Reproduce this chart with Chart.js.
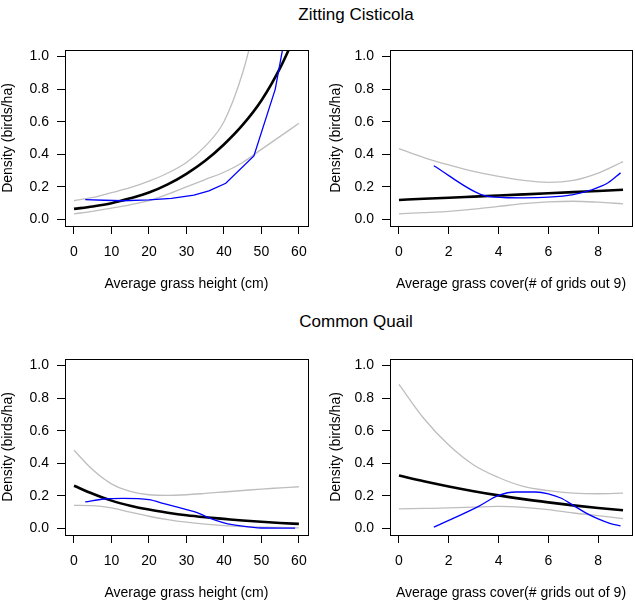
<!DOCTYPE html>
<html>
<head>
<meta charset="utf-8">
<script src="https://cdn.jsdelivr.net/npm/chart.js@4"></script>
<style>
  body { margin: 0; background: #fff; }
  #page { position: relative; width: 635px; height: 603px; background: #fff; overflow: hidden; }
  .main { position: absolute; left: 0; width: 712px; text-align: center;
          font-family: "Liberation Sans", Arial, sans-serif; font-size: 17px; color: #000; line-height: 20px; }
  canvas { position: absolute; }
</style>
</head>
<body>
<div id="page">
  <div class="main" style="top:5px">Zitting Cisticola</div>
  <div class="main" style="top:312px">Common Quail</div>
  <canvas id="c1" width="317" height="263" style="left:0;top:30px"></canvas>
  <canvas id="c2" width="318" height="263" style="left:317px;top:30px"></canvas>
  <canvas id="c3" width="317" height="263" style="left:0;top:339px"></canvas>
  <canvas id="c4" width="318" height="263" style="left:317px;top:339px"></canvas>
</div>
<script>
// --- 데이터 ---
const densityTicks = [0, 0.2, 0.4, 0.6, 0.8, 1.0];
const heightTicks = [0, 10, 20, 30, 40, 50, 60];
const coverTicks = [0, 2, 4, 6, 8];

const heightX = [0, 5, 10, 15, 20, 25, 30, 35, 40, 45, 50, 55, 60];
const coverX = [0, 1, 2, 3, 4, 5, 6, 7, 8, 9];

// Zitting Cisticola - grass height
const zcHeightFit   = [0.065, 0.08, 0.10, 0.13, 0.165, 0.215, 0.28, 0.36, 0.46, 0.58, 0.73, 0.93, 1.18];
const zcHeightUpper = [0.115, 0.135, 0.165, 0.195, 0.235, 0.285, 0.35, 0.45, 0.60, 0.9, 1.35, null, null];
const zcHeightLower = [0.035, 0.05, 0.07, 0.09, 0.115, 0.155, 0.20, 0.245, 0.29, 0.35, 0.43, 0.51, 0.59];
const zcHeightObsX  = [3, 8, 13, 20, 26, 32, 36, 40.5, 48, 53.7, 56.5];
const zcHeightObs   = [0.122, 0.118, 0.115, 0.12, 0.13, 0.15, 0.175, 0.222, 0.39, 0.8, 1.15];

// Zitting Cisticola - grass cover
const zcCoverFit   = [0.12, 0.127, 0.133, 0.14, 0.147, 0.154, 0.161, 0.168, 0.175, 0.182];
const zcCoverUpper = [0.435, 0.38, 0.335, 0.295, 0.265, 0.24, 0.228, 0.24, 0.285, 0.355];
const zcCoverLower = [0.035, 0.042, 0.05, 0.063, 0.08, 0.097, 0.108, 0.112, 0.106, 0.096];
const zcCoverObsX  = [1.4, 3.3, 4.2, 5, 6, 7, 7.7, 8.4, 8.9];
const zcCoverObs   = [0.33, 0.153, 0.135, 0.133, 0.137, 0.153, 0.18, 0.225, 0.286];

// Common Quail - grass height
const cqHeightFit   = [0.262, 0.213, 0.171, 0.14, 0.116, 0.097, 0.081, 0.069, 0.059, 0.049, 0.041, 0.034, 0.028];
const cqHeightUpper = [0.48, 0.36, 0.274, 0.228, 0.207, 0.203, 0.207, 0.215, 0.224, 0.233, 0.242, 0.249, 0.256];
const cqHeightLower = [0.142, 0.14, 0.126, 0.10, 0.075, 0.055, 0.039, 0.027, 0.018, 0.012, 0.008, 0.006, 0.004];
const cqHeightObsX  = [3, 8, 13, 20, 24, 30, 33, 36, 40, 45, 50, 59];
const cqHeightObs   = [0.163, 0.181, 0.185, 0.177, 0.152, 0.116, 0.096, 0.065, 0.035, 0.014, 0.003, 0.002];

// Common Quail - grass cover
const cqCoverFit   = [0.325, 0.29, 0.258, 0.229, 0.203, 0.18, 0.16, 0.142, 0.126, 0.112];
const cqCoverUpper = [0.884, 0.675, 0.512, 0.39, 0.313, 0.258, 0.232, 0.217, 0.213, 0.217];
const cqCoverLower = [0.12, 0.123, 0.126, 0.131, 0.136, 0.13, 0.116, 0.095, 0.079, 0.061];
const cqCoverObsX  = [1.4, 3.2, 4, 4.7, 5.5, 6, 6.5, 7, 7.5, 8, 8.5, 8.9];
const cqCoverObs   = [0.008, 0.136, 0.203, 0.224, 0.224, 0.213, 0.187, 0.142, 0.096, 0.059, 0.03, 0.016];

const FONT = '"Liberation Sans", Arial, sans-serif';

const pts = (xs, ys) => xs.map((x, i) => ({ x: x, y: ys[i] }));

// R 스타일 박스
const boxPlugin = {
    id: 'box',
    afterDatasetsDraw(chart) {
        const a = chart.chartArea;
        const c = chart.ctx;
        c.save();
        c.strokeStyle = '#000';
        c.lineWidth = 1;
        c.strokeRect(Math.round(a.left) + 0.5, Math.round(a.top) + 0.5,
                     Math.round(a.right - a.left), Math.round(a.bottom - a.top));
        c.restore();
    }
};

function makePanel(id, xs, fit, upper, lower, obsX, obs, xTicks, xTitle, padLeft, yWidth, obsTension) {
    const xMax = xTicks === heightTicks ? 60 : 9;
    const ext = xMax * 0.04;
    new Chart(document.getElementById(id), {
        type: 'line',
        data: {
            datasets: [
                { data: pts(obsX, obs), borderColor: '#0000ff', borderWidth: 1.3, order: 0,
                  tension: obsTension, cubicInterpolationMode: obsTension ? 'monotone' : 'default' },
                { data: pts(xs, fit), borderColor: '#000', borderWidth: 2.6, order: 1, cubicInterpolationMode: 'monotone' },
                { data: pts(xs, upper), borderColor: '#bebebe', borderWidth: 1.3, order: 2, cubicInterpolationMode: 'monotone' },
                { data: pts(xs, lower), borderColor: '#bebebe', borderWidth: 1.3, order: 3, cubicInterpolationMode: 'monotone' }
            ]
        },
        options: {
            responsive: false,
            animation: false,
            events: [],
            elements: { point: { radius: 0 } },
            layout: { padding: { left: padLeft, right: id === 'c1' || id === 'c3' ? 9 : 3, top: 20, bottom: 0 } },
            plugins: { legend: { display: false }, tooltip: { enabled: false } },
            scales: {
                x: {
                    type: 'linear',
                    min: -ext, max: xMax + ext,
                    afterBuildTicks: s => { s.ticks = xTicks.map(v => ({ value: v })); },
                    afterFit: s => { s.height = 67; },
                    grid: { drawOnChartArea: false, drawTicks: true, tickLength: 8, color: '#000' },
                    border: { display: false },
                    ticks: { color: '#000', font: { family: FONT, size: 14 }, padding: 10, maxRotation: 0,
                             callback: v => String(v) },
                    title: { display: true, text: xTitle, color: '#000', font: { family: FONT, size: 14 },
                             padding: { top: 0, bottom: 0 } }
                },
                y: {
                    min: -0.04, max: 1.04,
                    afterBuildTicks: s => { s.ticks = densityTicks.map(v => ({ value: v })); },
                    afterFit: s => { s.width = yWidth; },
                    grid: { drawOnChartArea: false, drawTicks: true, tickLength: 8, color: '#000' },
                    border: { display: false },
                    ticks: { color: '#000', font: { family: FONT, size: 14 }, padding: 8,
                             callback: v => Number(v).toFixed(1) },
                    title: { display: true, text: 'Density (birds/ha)', color: '#000', font: { family: FONT, size: 14 },
                             padding: { top: 0, bottom: 0 } }
                }
            }
        },
        plugins: [boxPlugin]
    });
}

makePanel('c1', heightX, zcHeightFit, zcHeightUpper, zcHeightLower, zcHeightObsX, zcHeightObs,
          heightTicks, 'Average grass height (cm)', 0, 65, 0);
makePanel('c2', coverX, zcCoverFit, zcCoverUpper, zcCoverLower, zcCoverObsX, zcCoverObs,
          coverTicks, 'Average grass cover(# of grids out 9)', 11, 62, 0.4);
makePanel('c3', heightX, cqHeightFit, cqHeightUpper, cqHeightLower, cqHeightObsX, cqHeightObs,
          heightTicks, 'Average grass height (cm)', 0, 65, 0.4);
makePanel('c4', coverX, cqCoverFit, cqCoverUpper, cqCoverLower, cqCoverObsX, cqCoverObs,
          coverTicks, 'Average grass cover(# grids out of 9)', 11, 62, 0.4);
</script>
</body>
</html>
